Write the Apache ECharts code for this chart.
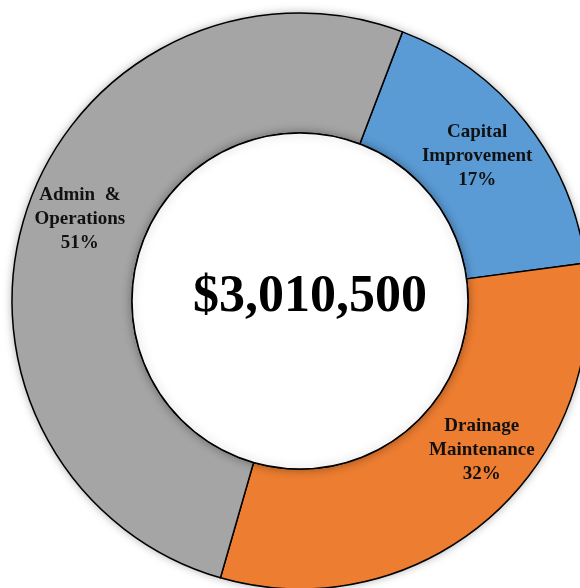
<!DOCTYPE html>
<html>
<head>
<meta charset="utf-8">
<script src="https://cdn.jsdelivr.net/npm/echarts@6/dist/echarts.min.js"></script>
<style>
  html, body { margin: 0; padding: 0; background: #ffffff; }
  #chart { width: 580px; height: 588px; }
</style>
</head>
<body>
<div id="chart"></div>
<script>
// Data
var categories = ['Capital\nImprovement', 'Drainage\nMaintenance', 'Admin  &\nOperations'];
var values = [515000, 950000, 1545500];
var percentLabels = ['17%', '32%', '51%'];
var totalLabel = '$3,010,500';

// Styles
var colors = ['#5B9BD5', '#ED7D31', '#A5A5A5'];
var labelShift = [[-4, -2], [31, -26], [-1, -9]];
var serif = '"Liberation Serif", "Times New Roman", serif';

var chart = echarts.init(document.getElementById('chart'), null, { renderer: 'canvas' });

var total = values.reduce(function (a, b) { return a + b; }, 0);

var ringData = categories.map(function (c, i) {
  return {
    name: c,
    value: values[i],
    itemStyle: { color: colors[i] },
    label: { formatter: c + '\n' + percentLabels[i] }
  };
});

var option = {
  animation: false,
  backgroundColor: '#ffffff',
  series: [
    {
      type: 'pie',
      silent: true,
      center: [300, 301],
      radius: [0, 288],
      z: 1,
      label: { show: false },
      labelLine: { show: false },
      data: [{ value: total, itemStyle: { color: '#A5A5A5', shadowBlur: 10, shadowColor: 'rgba(0,0,0,0.35)' } }]
    },
    {
      type: 'pie',
      silent: true,
      center: [300, 301],
      radius: [168, 288],
      startAngle: 69.15,
      clockwise: true,
      z: 2,
      itemStyle: { borderColor: '#000000', borderWidth: 1.5 },
      label: {
        show: true,
        position: 'inside',
        color: '#111111',
        fontFamily: serif,
        fontWeight: 'bold',
        fontSize: 19,
        lineHeight: 24,
        align: 'center'
      },
      labelLine: { show: false },
      labelLayout: function (p) {
        var s = labelShift[p.dataIndex];
        return { dx: s[0], dy: s[1] };
      },
      data: ringData
    },
    {
      type: 'pie',
      silent: true,
      center: [300, 301],
      radius: [0, 168],
      z: 3,
      itemStyle: {
        color: '#ffffff',
        borderColor: '#000000',
        borderWidth: 1.5,
        shadowBlur: 10,
        shadowColor: 'rgba(0,0,0,0.35)'
      },
      label: {
        show: true,
        position: 'center',
        formatter: totalLabel,
        color: '#000000',
        fontFamily: serif,
        fontWeight: 'bold',
        fontSize: 52,
        offset: [10, -3]
      },
      labelLine: { show: false },
      data: [{ value: total, name: 'Total' }]
    }
  ]
};

chart.setOption(option);
</script>
</body>
</html>
